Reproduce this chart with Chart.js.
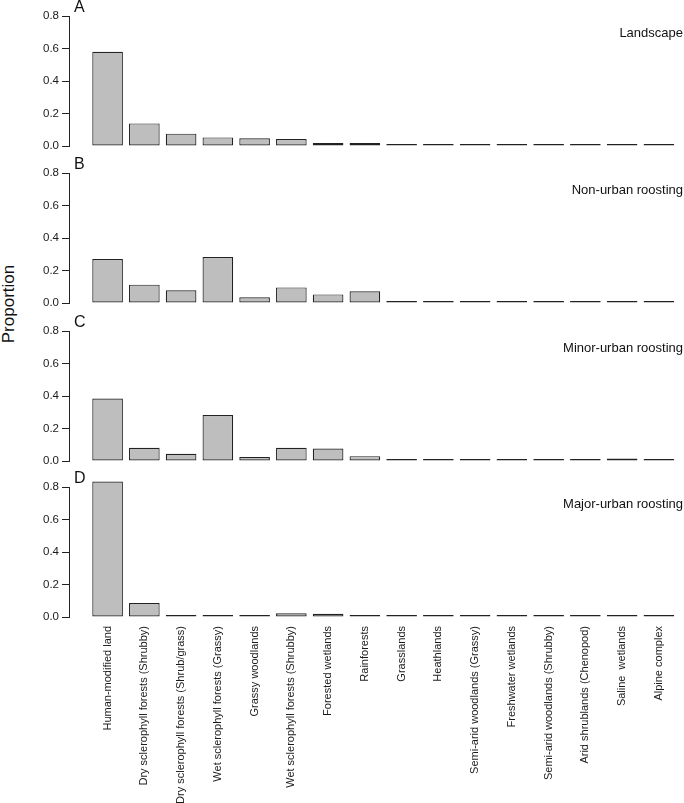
<!DOCTYPE html>
<html>
<head>
<meta charset="utf-8">
<title>Habitat proportions</title>
<script src="https://cdn.jsdelivr.net/npm/chart.js@4.4.1/dist/chart.umd.min.js"></script>
<style>
    html, body { margin: 0; padding: 0; background: #fff; overflow: hidden; }
    #wrap { position: relative; width: 684px; height: 803px; }
    #wrap canvas { position: absolute; left: 0; }
    #ytitle {
        position: absolute; left: -51px; top: 294px; width: 120px; height: 20px;
        line-height: 20px; text-align: center; font: 17px "Liberation Sans", Arial, sans-serif;
        color: #111; transform: rotate(-90deg); transform-origin: 50% 50%;
    }
</style>
</head>
<body>
<div id="wrap">
    <div id="ytitle">Proportion</div>
    <canvas id="panel-a" width="684" height="157" style="top:0px"></canvas>
    <canvas id="panel-b" width="684" height="157" style="top:157px"></canvas>
    <canvas id="panel-c" width="684" height="157" style="top:315px"></canvas>
    <canvas id="panel-d" width="684" height="332" style="top:471px"></canvas>
</div>
<script>
// Habitat categories (same order in every panel)
var categories = [
    'Human-modified land',
    'Dry sclerophyll forests (Shrubby)',
    'Dry sclerophyll forests (Shrub/grass)',
    'Wet sclerophyll forests (Grassy)',
    'Grassy woodlands',
    'Wet sclerophyll forests (Shrubby)',
    'Forested wetlands',
    'Rainforests',
    'Grasslands',
    'Heathlands',
    'Semi-arid woodlands (Grassy)',
    'Freshwater wetlands',
    'Semi-arid woodlands (Shrubby)',
    'Arid shrublands (Chenopod)',
    'Saline  wetlands',
    'Alpine complex'
];

// Proportions
var landscape  = [0.580, 0.139, 0.076, 0.053, 0.047, 0.043, 0.018, 0.018, 0.006, 0.006, 0.004, 0.004, 0.004, 0.003, 0.003, 0.001];
var nonUrban   = [0.271, 0.113, 0.078, 0.283, 0.035, 0.096, 0.053, 0.072, 0.001, 0.004, 0.001, 0.003, 0.001, 0.001, 0.002, 0.001];
var minorUrban = [0.385, 0.082, 0.045, 0.283, 0.025, 0.082, 0.077, 0.030, 0.001, 0.003, 0.001, 0.003, 0.001, 0.001, 0.016, 0.001];
var majorUrban = [0.834, 0.086, 0.004, 0.012, 0.001, 0.023, 0.020, 0.005, 0.001, 0.013, 0.001, 0.002, 0.001, 0.001, 0.002, 0.001];

var yTicks = [0, 0.2, 0.4, 0.6, 0.8];

// barplot-style layout: bar width 1, gap 0.2
var BAR_SPACE = 0.2;
var X_MIN = -0.56;
var X_MAX = 19.52;

(function() {
    'use strict';

    Chart.defaults.font.family = '"Liberation Sans", Arial, sans-serif';
    Chart.defaults.color = '#1a1a1a';

    function barCenters() {
        return categories.map(function(c, i) {
            return BAR_SPACE + 0.5 + i * (1 + BAR_SPACE);
        });
    }

    // Panel letter (top-left) and panel name (top-right)
    var panelText = {
        id: 'panelText',
        afterDraw: function(chart, args, opts) {
            var ctx = chart.ctx;
            ctx.save();
            ctx.fillStyle = '#111';
            ctx.textBaseline = 'alphabetic';
            ctx.font = '16px "Liberation Sans", Arial, sans-serif';
            ctx.textAlign = 'left';
            ctx.fillText(opts.letter, 74, 12);
            ctx.font = '13px "Liberation Sans", Arial, sans-serif';
            ctx.textAlign = 'right';
            ctx.fillText(opts.name, 683, 37);
            ctx.restore();
        }
    };

    /**
     * Build one panel
     *
     * @param {string} canvasId - Canvas element ID
     * @param {Array} values - Proportions per category
     * @param {string} letter - Panel letter
     * @param {string} name - Panel name
     * @param {boolean} showLabels - Draw category labels under the panel
     */
    function makePanel(canvasId, values, letter, name, showLabels) {
        var centers = barCenters();
        var points = values.map(function(v, i) {
            return { x: centers[i], y: v };
        });

        return new Chart(document.getElementById(canvasId), {
            type: 'bar',
            data: {
                datasets: [{
                    data: points,
                    backgroundColor: '#bebebe',
                    borderColor: '#222',
                    borderWidth: 1.2,
                    borderSkipped: false,
                    minBarLength: 2,
                    categoryPercentage: 1,
                    barPercentage: 1 / (1 + BAR_SPACE),
                    clip: false
                }]
            },
            options: {
                responsive: false,
                animation: false,
                layout: { padding: { top: 16, right: 0, bottom: showLabels ? 0 : 11, left: 0 } },
                plugins: {
                    legend: { display: false },
                    tooltip: { enabled: false },
                    panelText: { letter: letter, name: name }
                },
                scales: {
                    x: {
                        type: 'linear',
                        min: X_MIN,
                        max: X_MAX,
                        offset: false,
                        display: showLabels,
                        afterBuildTicks: function(axis) {
                            axis.ticks = centers.map(function(v) { return { value: v }; });
                        },
                        afterFit: function(axis) {
                            if (showLabels) axis.height = 186;
                        },
                        grid: { display: false, drawTicks: false, offset: false },
                        border: { display: false },
                        ticks: {
                            autoSkip: false,
                            minRotation: 90,
                            maxRotation: 90,
                            padding: 9,
                            font: { size: 11 },
                            callback: function(value, index) {
                                return categories[index];
                            }
                        }
                    },
                    y: {
                        min: 0,
                        max: 0.8,
                        afterBuildTicks: function(axis) {
                            axis.ticks = yTicks.map(function(v) { return { value: v }; });
                        },
                        afterFit: function(axis) {
                            axis.width = 69;
                        },
                        grid: {
                            drawOnChartArea: false,
                            drawTicks: true,
                            tickLength: 7,
                            color: '#222'
                        },
                        border: { display: true, color: '#222', width: 1 },
                        ticks: {
                            padding: 3,
                            font: { size: 11.5 },
                            callback: function(value) {
                                return value.toFixed(1);
                            }
                        }
                    }
                }
            },
            plugins: [panelText]
        });
    }

    makePanel('panel-a', landscape, 'A', 'Landscape', false);
    makePanel('panel-b', nonUrban, 'B', 'Non-urban roosting', false);
    makePanel('panel-c', minorUrban, 'C', 'Minor-urban roosting', false);
    makePanel('panel-d', majorUrban, 'D', 'Major-urban roosting', true);
})();
</script>
</body>
</html>
